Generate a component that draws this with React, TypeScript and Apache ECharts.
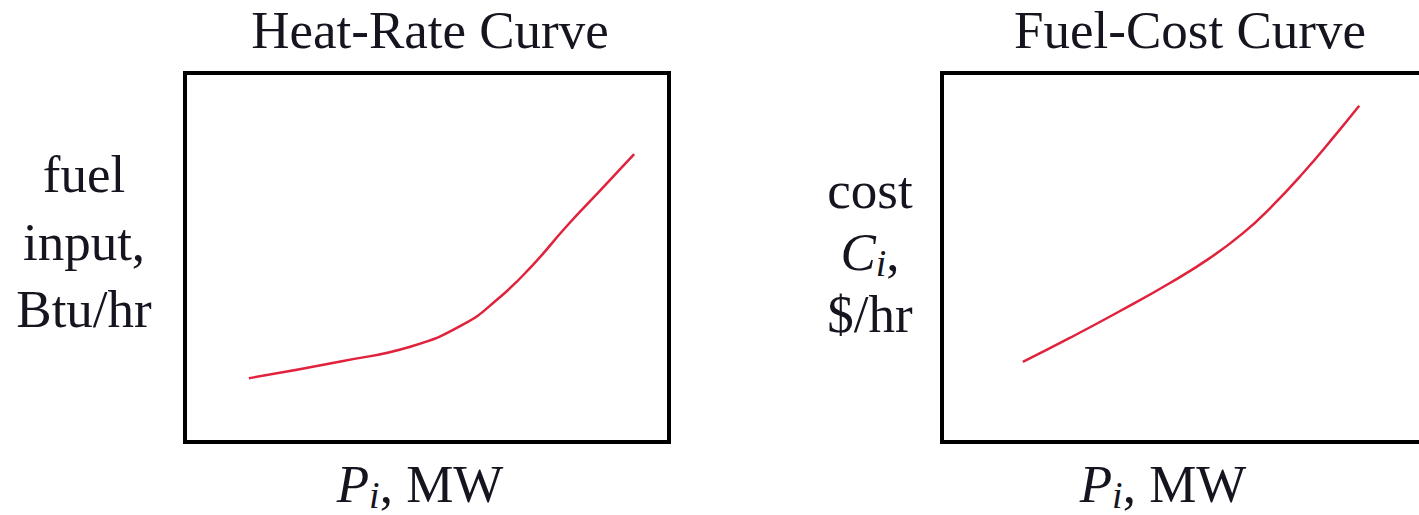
import React, { useEffect, useRef } from "react";
import * as echarts from "echarts";

// Heat-rate curve (normalised 0-100 units inside the box)
const heatRateX = [13.2, 32.4, 46.7, 57.4, 64.5, 71.6, 78.8, 85.9, 92.8];
const heatRateY = [17.3, 21.9, 25.9, 31.8, 38.6, 47.6, 58.4, 68.3, 78.0];

// Fuel-cost curve
const fuelCostX = [16.7, 26.4, 36.8, 47.1, 55.4, 62.2, 67.8, 74.6, 81.6, 86.2];
const fuelCostY = [21.7, 28.2, 35.5, 43.1, 49.9, 56.6, 63.4, 72.9, 83.7, 91.1];

const titles = ["Heat-Rate Curve", "Fuel-Cost Curve"];
const leftYLabel = ["fuel", "input,", "Btu/hr"];
const rightYLabel = ["cost", "{i|C}{s|i}{n|,}", "$/hr"];
const xLabel = "{i|P}{s|i}{n|, MW}";

const FONT = "'Liberation Serif', 'Times New Roman', serif";
const TEXT = "#15151f";
const RED = "#e0223c";

export default function App() {
  const ref = useRef<HTMLDivElement>(null);
  useEffect(() => {
    if (!ref.current) return;
    const chart = echarts.init(ref.current, undefined, { renderer: "svg" });
    const rich = {
      i: { fontStyle: "italic", fontSize: 53, fontFamily: FONT, color: TEXT, lineHeight: 60 },
      s: { fontStyle: "italic", fontSize: 38, fontFamily: FONT, color: TEXT, lineHeight: 34, verticalAlign: "bottom" },
      n: { fontSize: 53, fontFamily: FONT, color: TEXT, lineHeight: 60 },
    };
    const txt = (text: string, x: number, y: number, useRich = false) => ({
      type: "text",
      x,
      y,
      style: {
        text,
        fontFamily: FONT,
        fontSize: 53,
        fill: TEXT,
        align: "center",
        verticalAlign: "middle",
        ...(useRich ? { rich } : {}),
      },
    });
    const leftYs = [174, 242, 309];
    const rightYs = [190, 252, 314];
    const graphic: any[] = [
      txt(titles[0], 430, 30),
      txt(titles[1], 1190, 30),
      ...leftYLabel.map((t, k) => txt(t, 84, leftYs[k])),
      ...rightYLabel.map((t, k) => txt(t, 870, rightYs[k], t.includes("{"))),
      txt(xLabel, 420, 484, true),
      txt(xLabel, 1163, 484, true),
      // right frame runs off the page edge, so only three sides are visible
      {
        type: "polyline",
        shape: { points: [[1440, 73], [942, 73], [942, 442], [1440, 442]] },
        style: { stroke: "#000", lineWidth: 4, fill: "none" },
        z: 10,
      },
    ];
    const gridBase = { top: 73, height: 369, backgroundColor: "transparent" };
    const axis = (i: number, max = 100) => ({ gridIndex: i, type: "value", min: 0, max, show: false });
    const lineSeries = (i: number, xs: number[], ys: number[]) => ({
      type: "line",
      xAxisIndex: i,
      yAxisIndex: i,
      data: xs.map((x, k) => [x, ys[k]]),
      smooth: 0.5,
      showSymbol: false,
      lineStyle: { color: RED, width: 2.5 },
    });
    chart.setOption({
      animation: false,
      backgroundColor: "#fff",
      grid: [
        { ...gridBase, left: 185, width: 484, show: true, borderColor: "#000", borderWidth: 4 },
        // visible part of the right box: 477 of its 484 px
        { ...gridBase, left: 942, right: 0, show: false },
      ],
      xAxis: [axis(0), axis(1, (100 * 477) / 484)],
      yAxis: [axis(0), axis(1)],
      series: [lineSeries(0, heatRateX, heatRateY), lineSeries(1, fuelCostX, fuelCostY)],
      graphic,
    });
    return () => chart.dispose();
  }, []);
  return <div ref={ref} style={{ position: "fixed", left: 0, top: 0, width: 1419, height: 515 }} />;
}
